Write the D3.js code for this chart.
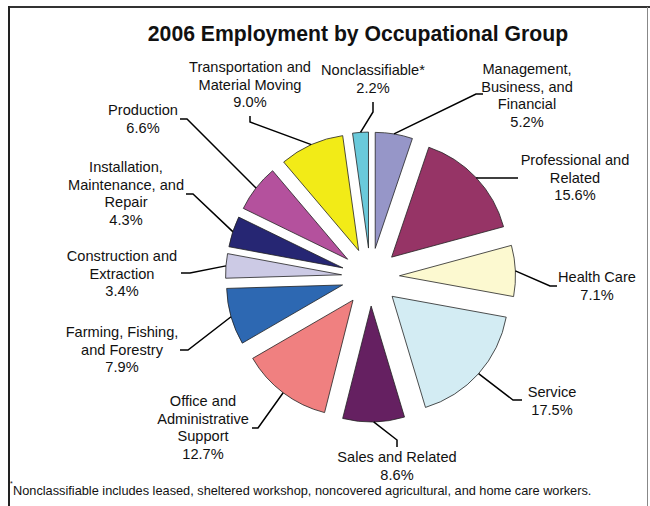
<!DOCTYPE html>
<html>
<head>
<meta charset="utf-8">
<script src="https://cdn.jsdelivr.net/npm/d3@7"></script>
<style>
  html, body { margin: 0; padding: 0; background: #ffffff; }
  svg { display: block; }
  text { font-family: "Liberation Sans", Arial, sans-serif; fill: #111; }
</style>
</head>
<body>
<svg id="chart" width="650" height="506"></svg>
<script>
// ---- data ----
const categories = [
  "Management, Business, and Financial",
  "Professional and Related",
  "Health Care",
  "Service",
  "Sales and Related",
  "Office and Administrative Support",
  "Farming, Fishing, and Forestry",
  "Construction and Extraction",
  "Installation, Maintenance, and Repair",
  "Production",
  "Transportation and Material Moving",
  "Nonclassifiable*"
];
const values = [5.2, 15.6, 7.1, 17.5, 8.6, 12.7, 7.9, 3.4, 4.3, 6.6, 9.0, 2.2];
const labelLines = [
  ["Management,", "Business, and", "Financial"],
  ["Professional and", "Related"],
  ["Health Care"],
  ["Service"],
  ["Sales and Related"],
  ["Office and", "Administrative", "Support"],
  ["Farming, Fishing,", "and Forestry"],
  ["Construction and", "Extraction"],
  ["Installation,", "Maintenance, and", "Repair"],
  ["Production"],
  ["Transportation and", "Material Moving"],
  ["Nonclassifiable*"]
];
const titleText = "2006 Employment by Occupational Group";
const footnoteText = "Nonclassifiable includes leased, sheltered workshop, noncovered agricultural, and home care workers.";

// ---- styles / layout ----
const colors = ["#9696c8", "#963466", "#fcf9d0", "#d3ecf3", "#652061", "#f08080",
                "#2d68b2", "#cccae5", "#262673", "#b4519d", "#f2eb17", "#6acadb"];
const cx = 370.5, cy = 277, radius = 116, explode = 29, lineH = 17.5;
// label anchor: [centerX, firstBaseline], leader: [elbowX, elbowY, endX, endY]
const labelPos = [
  [527, 74], [575, 165], [597, 282], [552, 397], [397, 462], [203, 406],
  [122, 337], [122, 261], [126, 172], [143, 115], [250, 72], [373, 75]
];
const leaders = [
  [476, 94, 483, 94], [478, 178, 518, 178], [550, 286, 557, 286], [513, 400, 522, 400],
  [397, 440, 397, 447], [258, 428, 252, 428], [188, 350, 180, 350], [190, 273, 181, 273],
  [193, 194, 186, 194], [187, 119, 180, 119], [250, 122, 250, 116], [373, 112, 373, 102]
];

const svg = d3.select("#chart");

// frame
svg.append("line").attr("x1", 9).attr("x2", 650).attr("y1", 7).attr("y2", 7)
  .attr("stroke", "#333").attr("stroke-width", 2);
svg.append("line").attr("x1", 9).attr("x2", 9).attr("y1", 6).attr("y2", 506)
  .attr("stroke", "#222").attr("stroke-width", 2);
svg.append("line").attr("x1", 647.5).attr("x2", 647.5).attr("y1", 7).attr("y2", 506)
  .attr("stroke", "#888").attr("stroke-width", 1);

// title
svg.append("text").attr("x", 358).attr("y", 41).attr("text-anchor", "middle")
  .style("font-weight", "bold").style("font-size", "21.2px").text(titleText);

// pie
const pie = d3.pie().sort(null).value(d => d)(values);
const arc = d3.arc().innerRadius(0).outerRadius(radius);
const g = svg.append("g").attr("transform", `translate(${cx},${cy})`);

pie.forEach((p, i) => {
  const mid = (p.startAngle + p.endAngle) / 2;
  const dx = Math.sin(mid) * explode, dy = -Math.cos(mid) * explode;
  g.append("path").attr("d", arc(p))
    .attr("transform", `translate(${dx},${dy})`)
    .attr("fill", colors[i]).attr("stroke", "#222").attr("stroke-width", 0.8);

  // leader line
  const ax = cx + Math.sin(mid) * (radius + explode);
  const ay = cy - Math.cos(mid) * (radius + explode);
  const L = leaders[i];
  svg.append("polyline")
    .attr("points", `${ax},${ay} ${L[0]},${L[1]} ${L[2]},${L[3]}`)
    .attr("fill", "none").attr("stroke", "#000").attr("stroke-width", 1.5);

  // label
  const lines = labelLines[i].concat([d3.format(".1f")(values[i]) + "%"]);
  const t = svg.append("text").attr("text-anchor", "middle").style("font-size", "14.6px");
  lines.forEach((s, k) => {
    t.append("tspan").attr("x", labelPos[i][0]).attr("y", labelPos[i][1] + k * lineH).text(s);
  });
});

// footnote
svg.append("text").attr("x", 10).attr("y", 486).style("font-size", "7px").text("*");
svg.append("text").attr("x", 13).attr("y", 494.5).style("font-size", "12.75px").text(footnoteText);
</script>
</body>
</html>
